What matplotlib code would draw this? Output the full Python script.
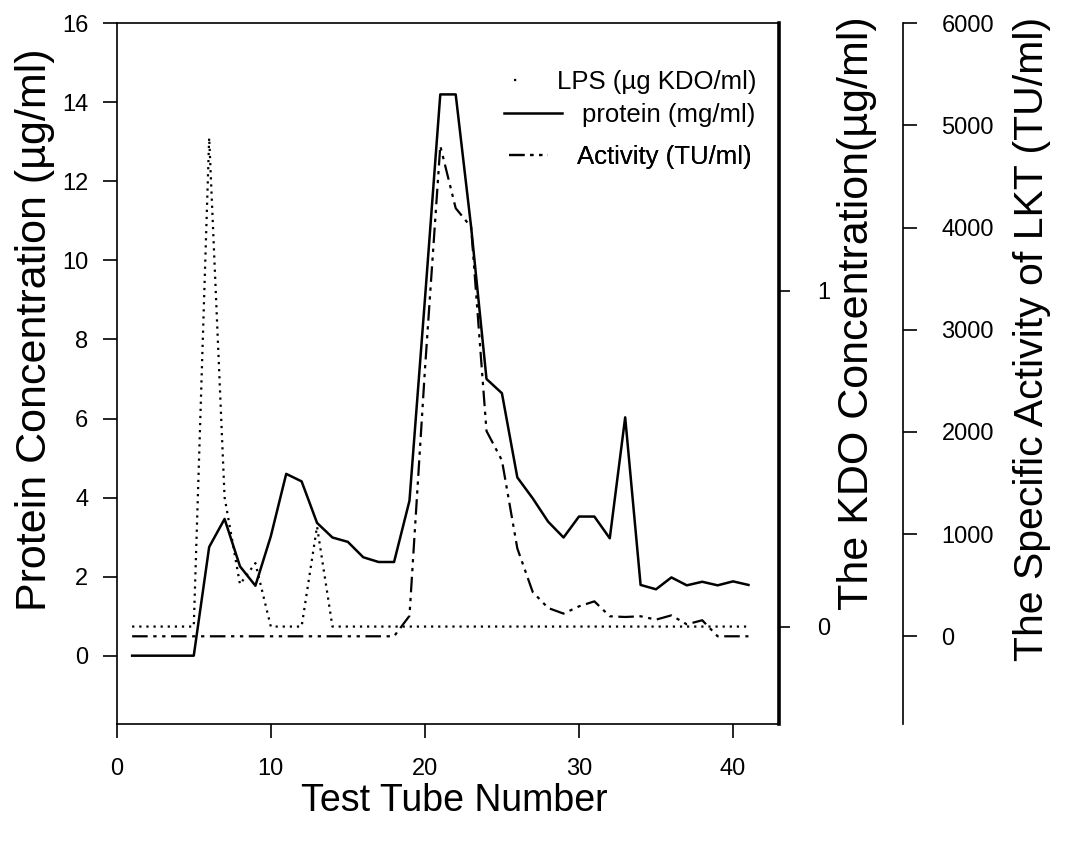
import matplotlib
matplotlib.use("Agg")
import matplotlib.pyplot as plt
from matplotlib.lines import Line2D

plt.rcParams['font.family'] = ['Liberation Sans', 'DejaVu Sans']

# test tube numbers and measured values
tubes = list(range(1, 42))
protein = [0, 0, 0, 0, 0, 2.75, 3.46, 2.26, 1.77, 3.02,
           4.60, 4.41, 3.36, 2.99, 2.88, 2.49, 2.37, 2.37, 3.92, 9.0,
           14.2, 14.2, 10.85, 7.0, 6.64, 4.51, 3.98, 3.39, 2.99, 3.52,
           3.52, 2.97, 6.03, 1.79, 1.68, 1.98, 1.78, 1.87, 1.78, 1.88,
           1.79]
lps_kdo = [0, 0, 0, 0, 0, 1.456, 0.385, 0.126, 0.189, 0,
           0, 0, 0.298, 0, 0, 0, 0, 0, 0, 0,
           0, 0, 0, 0, 0, 0, 0, 0, 0, 0,
           0, 0, 0, 0, 0, 0, 0, 0, 0, 0,
           0]
activity = [0] * 18 + [200, 2600, 4800, 4190, 4005, 2009, 1722, 860, 433, 277,
                       222, 293, 342, 196, 189, 196, 163, 205, 117, 157,
                       0, 0, 0]

x_ticks = [0, 10, 20, 30, 40]
protein_ticks = list(range(0, 17, 2))
kdo_ticks = [0, 1]
act_ticks = list(range(0, 6001, 1000))

lps_style = (0, (1, 2.2))
act_style = (0, (7, 2.5, 1.5, 2.5, 1.5, 2.5))

fig = plt.figure(figsize=(10.65, 8.46), dpi=100)
ax = fig.add_axes([0.1096, 0.1439, 0.6221, 0.8286])

ax.plot(tubes, protein, color='k', lw=1.8)
ax.set_xlim(0, 43)
ax.set_ylim(-1.735, 16)
ax.set_xticks(x_ticks)
ax.set_yticks(protein_ticks)
ax.tick_params(axis='both', direction='out', length=10, width=1.2, labelsize=17)
ax.tick_params(axis='x', pad=14)
ax.tick_params(axis='y', pad=10.5)
for s in ax.spines.values():
    s.set_linewidth(1.2)
ax.set_xlabel('Test Tube Number', fontsize=27)
ax.set_ylabel('Protein Concentration (\u00b5g/ml)', fontsize=31)
ax.xaxis.set_label_coords(0.51, -0.11)
ax.xaxis.label.set_va('center')
ax.yaxis.set_label_coords(-0.124, 0.5625)
ax.yaxis.label.set_va('center')

# KDO axis on the main right spine
ax2 = ax.twinx()
ax2.plot(tubes, lps_kdo, color='k', lw=1.6, linestyle=lps_style)
ax2.set_ylim(-0.291, 1.797)
ax2.set_yticks(kdo_ticks)
ax2.tick_params(axis='y', direction='out', length=8, width=1.2, labelsize=17, pad=19)
for k in ['top', 'bottom', 'left']:
    ax2.spines[k].set_visible(False)
ax2.spines['right'].set_linewidth(2.6)
ax2.set_ylabel('The KDO Concentration(\u00b5g/ml)', fontsize=31)
ax2.yaxis.set_label_coords(1.117, 0.586)
ax2.yaxis.label.set_va('center')

# activity axis, offset to the right
ax3 = ax.twinx()
ax3.plot(tubes, activity, color='k', lw=1.6, linestyle=act_style)
ax3.set_ylim(-861, 6000)
ax3.set_yticks(act_ticks)
ax3.spines['right'].set_position(('axes', 1.1862))
for k in ['top', 'bottom', 'left']:
    ax3.spines[k].set_visible(False)
ax3.spines['right'].set_linewidth(1.2)
ax3.tick_params(axis='y', direction='out', length=10, width=1.2, labelsize=17, pad=18)
ax3.set_ylabel('The Specific Activity of LKT (TU/ml)', fontsize=29.5)
ax3.yaxis.set_label_coords(1.381, 0.55)
ax3.yaxis.label.set_va('center')

# legend entries, text right aligned like the original
entries = [
    (Line2D([], [], color='k', lw=1.6, linestyle=(0, (1, 30))), 'LPS (\u00b5g KDO/ml)', 1.2, 0.5, 0.9664, 0.9167),
    (Line2D([], [], color='k', lw=1.8), 'protein (mg/ml)', 2.22, 0.78, 0.9633, 0.8692),
    (Line2D([], [], color='k', lw=1.6, linestyle=act_style), 'Activity (TU/ml)', 1.52, 1.13, 0.9588, 0.8097),
]
for h, lab, hl, hp, lx, ly in entries:
    leg = ax3.legend([h], [lab], loc='center right', bbox_to_anchor=(lx, ly),
                     bbox_transform=ax.transAxes, frameon=False, fontsize=18.5,
                     handlelength=hl, handletextpad=hp, borderpad=0, borderaxespad=0)
    ax3.add_artist(leg)

fig.savefig('out.png', dpi=100)
